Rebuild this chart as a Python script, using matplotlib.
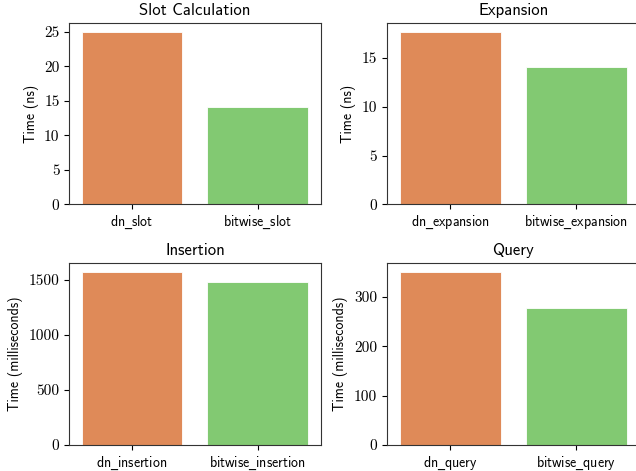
import matplotlib
matplotlib.use('Agg')
import matplotlib.pyplot as plt
from matplotlib.ticker import MultipleLocator

plt.rcParams['font.family'] = ['cmss10', 'DejaVu Sans']
plt.rcParams['mathtext.fontset'] = 'dejavusans'
plt.rcParams['axes.unicode_minus'] = False

'~~~~~~~~~~ DATA ~~~~~~~~~~'
slot_labels = ['dn_slot', 'bitwise_slot']
slot_times = [25.0, 14.1]

expansion_labels = ['dn_expansion', 'bitwise_expansion']
expansion_times = [17.7, 14.1]

insertion_labels = ['dn_insertion', 'bitwise_insertion']
insertion_times = [1577, 1483]

query_labels = ['dn_query', 'bitwise_query']
query_times = [351, 278]

titles = ['Slot Calculation', 'Expansion', 'Insertion', 'Query']
ylabels = ['Time (ns)', 'Time (ns)', 'Time (milliseconds)', 'Time (milliseconds)']
tick_steps = [5, 5, 500, 100]

bar_colors = ['#df8a58', '#82c972']

'~~~~~~~~~~ PLOT ~~~~~~~~~~'
fig = plt.figure(figsize=(6.36, 4.71), dpi=100)

# axes boxes [left, bottom, width, height] in figure fractions
boxes = [[0.109, 0.566, 0.395, 0.385],
         [0.6085, 0.566, 0.397, 0.385],
         [0.109, 0.0552, 0.395, 0.3864],
         [0.6085, 0.0552, 0.397, 0.3864]]

all_labels = [slot_labels, expansion_labels, insertion_labels, query_labels]
all_times = [slot_times, expansion_times, insertion_times, query_times]

for i in range(4):
    ax = fig.add_axes(boxes[i])
    ax.bar(range(len(all_times[i])), all_times[i], width=0.8, color=bar_colors,
           edgecolor='white', linewidth=0.6)
    ax.set_xlim(-0.5, 1.5)
    ax.set_xticks(range(len(all_labels[i])))
    # cmss10 has no real underscore glyph, so draw it through mathtext
    ax.set_xticklabels([l.replace('_', r'$\_$') for l in all_labels[i]], fontsize=10)
    ax.yaxis.set_major_locator(MultipleLocator(tick_steps[i]))
    ax.tick_params(axis='y', labelsize=11)
    ax.set_ylabel(ylabels[i], fontsize=10)
    ax.set_title(titles[i], fontsize=12)
    for s in ax.spines.values():
        s.set_color('#333333')

fig.canvas.draw()
for ax in fig.axes:
    for lab in ax.get_yticklabels():
        lab.set_family('cmr10')

plt.savefig('out.png', dpi=100)
